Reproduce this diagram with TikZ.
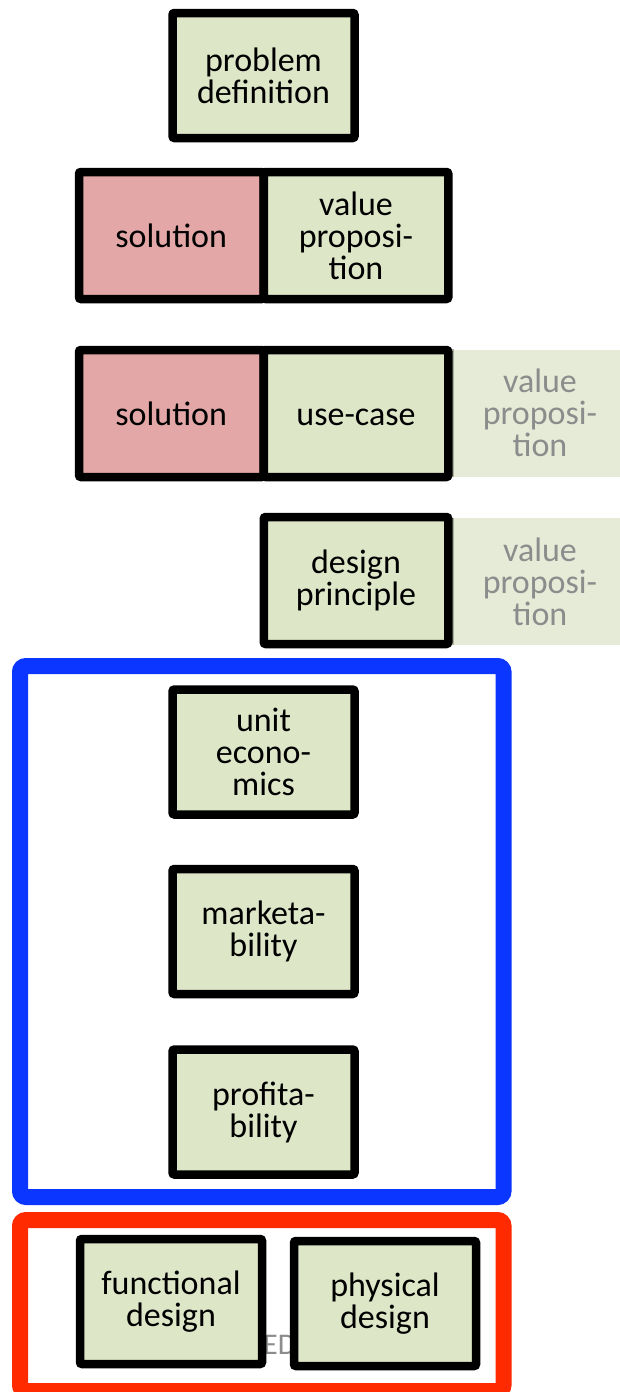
\documentclass[tikz,border=0pt]{standalone}
\usepackage{fontspec}
\setmainfont{Carlito}
\definecolor{boxgreen}{HTML}{DEE6C8}
\definecolor{boxred}{HTML}{E2A7A6}
\definecolor{fadegreen}{HTML}{E5EBD7}
\definecolor{fadeedge}{HTML}{A9B09B}
\definecolor{fadetext}{HTML}{8C8C8C}
\definecolor{frameblue}{HTML}{0A36FF}
\definecolor{framered}{HTML}{FF2A00}
\tikzset{
  stepbox/.style={draw=black, line width=8.5pt, fill=boxgreen, rounded corners=2pt,
    minimum width=182pt, minimum height=125pt, inner sep=0pt, align=center,
    font=\fontsize{34}{32}\selectfont},
  halfbox/.style={stepbox, minimum width=184.5pt, minimum height=127pt},
  redbox/.style={halfbox, fill=boxred},
  fadebox/.style={fill=fadegreen, draw=none, minimum width=182pt, minimum height=127pt,
    inner sep=0pt, align=center, text=fadetext, font=\fontsize{34}{32}\selectfont},
  frame/.style={line width=16pt, rounded corners=6pt},
}
\begin{document}
\begin{tikzpicture}[x=1pt, y=-1pt]
\useasboundingbox (0,0) rectangle (619,1392);

% faded value-proposition cards behind the right-hand boxes
\node[fadebox] (fade1) at (540,413) {value\\proposi-\\tion};
\node[fadebox] (fade2) at (540,581.5) {value\\proposi-\\tion};
\fill[fadeedge] (fade1.north west) ++(-2,0) rectangle ([xshift=5pt]fade1.south west);
\fill[fadeedge] (fade2.north west) ++(-2,0) rectangle ([xshift=5pt]fade2.south west);

% top of the chain
\node[stepbox] (problem) at (263.5,75.5) {problem\\definition};

\node[redbox] (sol1) at (171.25,235.5) {solution};
\node[halfbox] (vp) at (356,235.5) {value\\proposi-\\tion};

\node[redbox] (sol2) at (171.25,413.5) {solution};
\node[halfbox] (usecase) at (356,413.5) {\vphantom{l}use-case};

\node[halfbox] (design) at (356,580.5) {design\\principle};

% business group
\draw[frame, draw=frameblue] (20,666) rectangle (503.5,1197);
\node[stepbox] (unit) at (263.5,752) {unit\\econo-\\mics};
\node[stepbox] (market) at (263.5,931.5) {marketa-\\bility};
\node[stepbox] (profit) at (263.5,1112) {profita-\\bility};

% design group
\draw[frame, draw=framered] (20,1220) rectangle (503.5,1391);
\node[text=fadetext, font=\fontsize{30}{30}\selectfont, anchor=west, inner sep=0pt] (hidden) at (263,1345) {ED};
\node[stepbox] (functional) at (171,1301.5) {functional\\design};
\node[stepbox] (physical) at (385,1303.5) {physical\\design};
\end{tikzpicture}
\end{document}
